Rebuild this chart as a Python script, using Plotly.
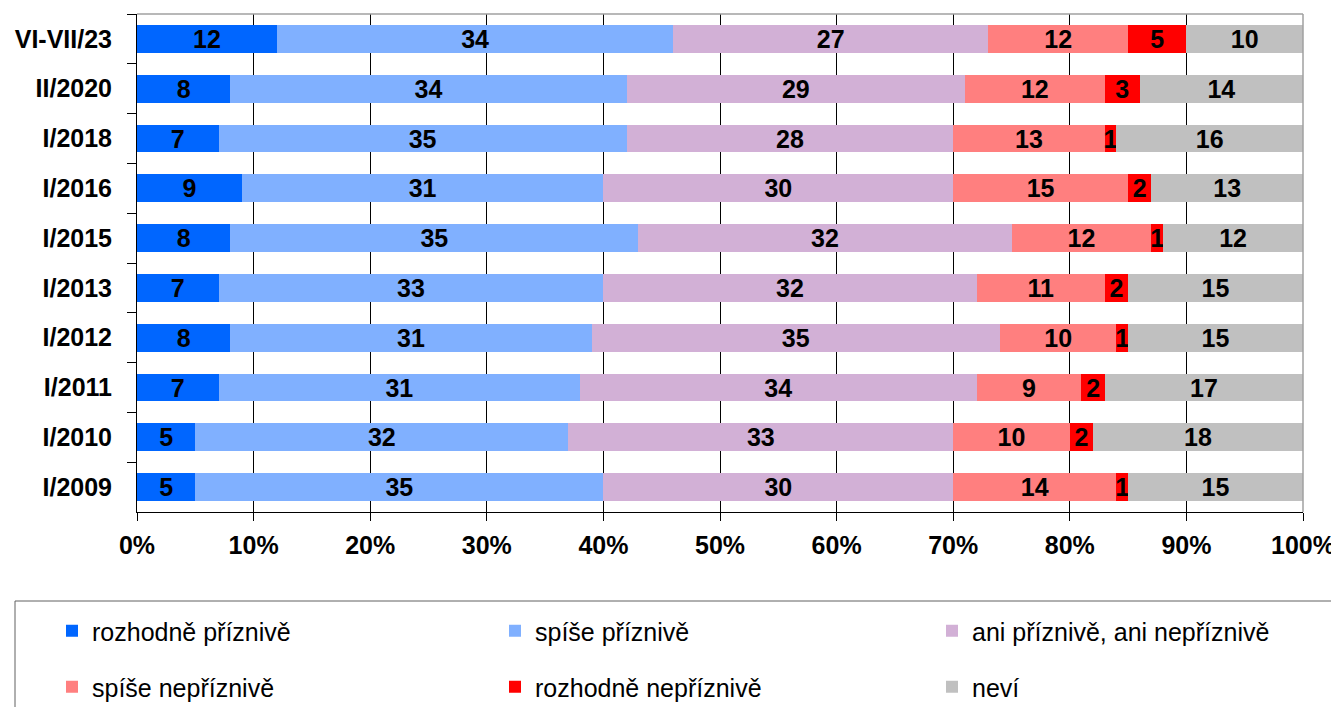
import plotly.graph_objects as go

categories = ["VI-VII/23", "II/2020", "I/2018", "I/2016", "I/2015",
              "I/2013", "I/2012", "I/2011", "I/2010", "I/2009"]
series_names = ["rozhodně příznivě", "spíše příznivě", "ani příznivě, ani nepříznivě",
                "spíše nepříznivě", "rozhodně nepříznivě", "neví"]
rozhodne_priznive = [12, 8, 7, 9, 8, 7, 8, 7, 5, 5]
spise_priznive = [34, 34, 35, 31, 35, 33, 31, 31, 32, 35]
ani_ani = [27, 29, 28, 30, 32, 32, 35, 34, 33, 30]
spise_nepriznive = [12, 12, 13, 15, 12, 11, 10, 9, 10, 14]
rozhodne_nepriznive = [5, 3, 1, 2, 1, 2, 1, 2, 2, 1]
nevi = [10, 14, 16, 13, 12, 15, 15, 17, 18, 15]
tick_values = [0, 10, 20, 30, 40, 50, 60, 70, 80, 90, 100]
tick_labels = ["0%", "10%", "20%", "30%", "40%", "50%", "60%", "70%", "80%", "90%", "100%"]

colors = ["#0066FF", "#80B0FF", "#D2B0D6", "#FF7F7F", "#FF0000", "#C0C0C0"]
all_series = [rozhodne_priznive, spise_priznive, ani_ani,
              spise_nepriznive, rozhodne_nepriznive, nevi]

# page has an 8px body margin; size the figure so it fills the window after that offset
OFF = 8
W, H = 1339 - OFF, 707 - OFF
ML, MR, MT, MB = 137 - OFF, 36, 14 - OFF, 195
PW = W - ML - MR
PH = H - MT - MB

def px_x(px):
    return (px - OFF - ML) / PW

def px_y(py):
    return (H - MB - (py - OFF)) / PH

FONT = "Liberation Sans, Arial, sans-serif"
FS = 25

# legend slots: (column x px, row y px) in window pixels
legend_pos = [(52, 631), (495, 631), (932, 631), (52, 687), (495, 687), (932, 687)]
legend_ids = ["legend", "legend2", "legend3", "legend4", "legend5", "legend6"]

fig = go.Figure()
for i, (name, vals, col) in enumerate(zip(series_names, all_series, colors)):
    fig.add_trace(go.Bar(
        y=categories, x=vals, name=name, orientation="h",
        marker=dict(color=col, line=dict(width=0)),
        text=vals, texttemplate="%{text}", textposition="inside",
        insidetextanchor="middle", textangle=0,
        textfont=dict(family=FONT, size=FS, color="black", weight="bold"),
        legend=legend_ids[i],
        cliponaxis=False,
    ))

legend_layout = {}
for lid, (lx, ly) in zip(legend_ids, legend_pos):
    legend_layout[lid] = dict(
        orientation="h", x=px_x(lx), xanchor="left", y=px_y(ly), yanchor="middle",
        font=dict(family=FONT, size=FS, color="black"),
        bgcolor="rgba(0,0,0,0)",
    )

fig.update_layout(
    width=W, height=H,
    margin=dict(l=ML, r=MR, t=MT, b=MB, autoexpand=False),
    barmode="stack", bargap=0.44,
    plot_bgcolor="white", paper_bgcolor="white",
    uniformtext=dict(minsize=FS, mode="show"),
    font=dict(family=FONT, color="black"),
    showlegend=True,
    xaxis=dict(range=[0, 100], tickvals=tick_values, ticktext=tick_labels,
               showgrid=True, gridcolor="black", gridwidth=1,
               showline=True, linecolor="black", linewidth=1,
               ticks="outside", ticklen=8, tickcolor="black",
               ticklabelstandoff=3, automargin=False,
               tickfont=dict(family=FONT, size=FS, color="black", weight="bold"),
               zeroline=False, fixedrange=True),
    yaxis=dict(categoryorder="array", categoryarray=categories, autorange="reversed",
               showline=True, linecolor="black", linewidth=1,
               ticks="outside", ticklen=9, tickcolor="black", tickson="boundaries",
               ticklabelstandoff=19, automargin=False,
               tickfont=dict(family=FONT, size=FS, color="black", weight="bold"),
               showgrid=False, fixedrange=True),
    shapes=[
        dict(type="line", xref="paper", yref="paper", x0=0, x1=1, y0=1, y1=1,
             line=dict(color="#A0A0A0", width=1.5), layer="above"),
        dict(type="line", xref="paper", yref="paper", x0=1, x1=1, y0=0, y1=1,
             line=dict(color="#A0A0A0", width=1.5), layer="above"),
        dict(type="rect", xref="paper", yref="paper",
             x0=px_x(15), x1=px_x(1336), y0=px_y(601), y1=px_y(720),
             line=dict(color="#606060", width=1), fillcolor="rgba(0,0,0,0)", layer="above"),
    ],
    **legend_layout,
)

fig.write_html("out.html")
